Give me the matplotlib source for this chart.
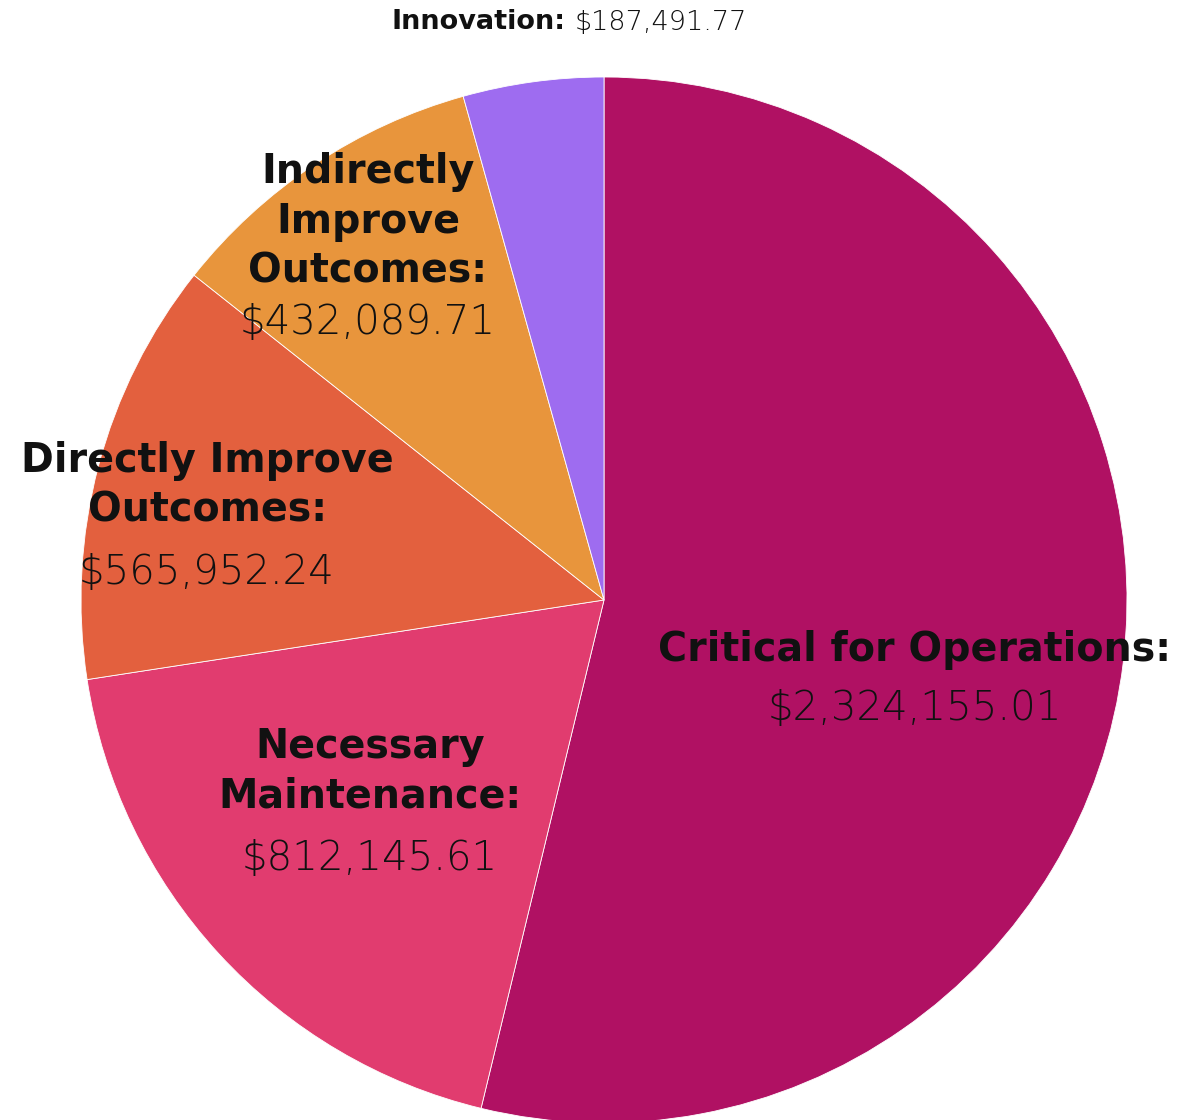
import matplotlib.pyplot as plt

categories = ['Critical for Operations', 'Necessary Maintenance', 'Directly Improve Outcomes',
              'Indirectly Improve Outcomes', 'Innovation']
values = [2324155.01, 812145.61, 565952.24, 432089.71, 187491.77]
colors = ['#B01163', '#E13C6F', '#E3603E', '#E8953C', '#9E6CF0']
# wrapped names as shown in the chart
names = ['Critical for Operations:', 'Necessary\nMaintenance:', 'Directly Improve\nOutcomes:',
         'Indirectly\nImprove\nOutcomes:', 'Innovation:']

W, H = 1179, 1120
cx, cy, R = 604, 600, 523
fig = plt.figure(figsize=(W / 100, H / 100), dpi=100)
ax = fig.add_axes([(cx - R) / W, (H - cy - R) / H, 2 * R / W, 2 * R / H])
ax.pie(values, colors=colors, startangle=90, counterclock=False, radius=1,
       wedgeprops=dict(edgecolor='white', linewidth=0.6))
ax.set_xlim(-1, 1)
ax.set_ylim(-1, 1)
ax.set_aspect('equal')
ax.axis('off')

def px(x, y):
    return (x - cx) / R, (cy - y) / R

# label layout: (x center, name center y, value center y) in pixels
layout = [(915, 650, 708), (370, 772, 858), (207, 486, 572), (368, 222, 323)]
for (x, yn, yv), name, v in zip(layout, names, values):
    ax.text(*px(x, yn), name, ha='center', va='center', fontsize=28.5, fontweight='bold',
            linespacing=1.32, color='#111111')
    ax.text(*px(x, yv), f'${v:,.2f}', ha='center', va='center', fontsize=29,
            fontweight='light', color='#111111')

# innovation label above the pie
ax.text(*px(566, 22), names[4], ha='right', va='center', fontsize=19.5, fontweight='bold',
        color='#111111', clip_on=False)
ax.text(*px(575, 22), f'${values[4]:,.2f}', ha='left', va='center', fontsize=19.5,
        fontweight='light', color='#111111', clip_on=False)

fig.savefig('out.png', dpi=100)
